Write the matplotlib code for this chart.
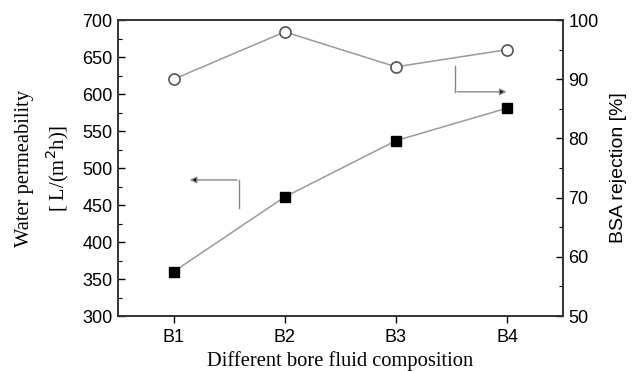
import numpy as np
import matplotlib
matplotlib.use('Agg')
from matplotlib import pyplot as plt

# Data
compositions = ['B1', 'B2', 'B3', 'B4']
permeability = [360, 461, 537, 581]       # L/(m2 h), left axis
bsa_rejection = [90.0, 98.0, 92.1, 95.0]  # %, right axis

x = np.arange(1, len(compositions) + 1)

sans = 'Liberation Sans'
serif = 'Liberation Serif'

fig = plt.figure(figsize=(6.33, 3.71), dpi=100)
ax = fig.add_axes([0.1864, 0.148, 0.7026, 0.798])
ax2 = ax.twinx()

# Permeability (filled squares)
ax.plot(x, permeability, color='#9a9a9a', lw=1.1, marker='s', ms=7.5,
        mfc='black', mec='black', zorder=3)
# BSA rejection (open circles)
ax2.plot(x, bsa_rejection, color='#9a9a9a', lw=1.1, marker='o', ms=8,
         mfc='white', mec='#555555', mew=1.2, zorder=3)

ax.set_xlim(0.5, 4.5)
ax.set_ylim(300, 700)
ax2.set_ylim(50, 100)
ax.set_xticks(x)
ax.set_xticklabels(compositions)
ax.set_yticks(np.arange(300, 701, 50))
ax.set_yticks(np.arange(300, 701, 25), minor=True)
ax2.set_yticks(np.arange(50, 101, 10))
ax2.set_yticks(np.arange(50, 101, 5), minor=True)

for a in (ax, ax2):
    a.tick_params(which='major', direction='in', length=5, width=1, labelsize=13, pad=4)
    a.tick_params(which='minor', direction='in', length=3, width=0.8)
    for lab in a.get_xticklabels() + a.get_yticklabels():
        lab.set_fontfamily(sans)
    for s in a.spines.values():
        s.set_linewidth(1.2)
        s.set_color('#333333')
ax.tick_params(axis='x', which='major', direction='out', length=5)

ax.set_xlabel('Different bore fluid composition', fontfamily=serif, fontsize=14.8, labelpad=4)
ax.set_ylabel('Water permeability\n[ L/(m$^2$h)]', fontfamily=serif, fontsize=14.8,
              labelpad=8, linespacing=1.45)
ax2.set_ylabel('BSA rejection [%]', fontfamily=sans, fontsize=14, labelpad=8)

# Direction arrows
ax.plot([1.59, 1.59], [446, 484], color='#888888', lw=1)
ax.annotate('', xy=(1.12, 484), xytext=(1.595, 484),
            arrowprops=dict(arrowstyle='-|>', color='#888888', lw=1,
                            mutation_scale=10, fc='black', ec='#888888'))
ax.plot([3.53, 3.53], [638, 603], color='#888888', lw=1)
ax.annotate('', xy=(4.02, 603), xytext=(3.525, 603),
            arrowprops=dict(arrowstyle='-|>', color='#888888', lw=1,
                            mutation_scale=10, fc='black', ec='#888888'))

plt.savefig('out.png', dpi=100)
